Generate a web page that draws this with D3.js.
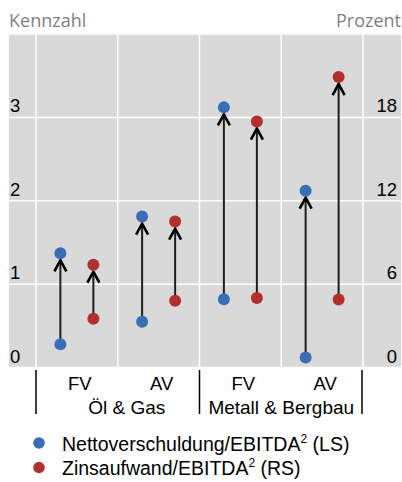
<!DOCTYPE html>
<html><head><meta charset="utf-8">
<script src="https://cdn.jsdelivr.net/npm/d3@7"></script>
<style>body{margin:0;background:#fff}svg{display:block}</style>
</head><body>
<script>
const categories = ["FV", "AV", "FV", "AV"];
const groups = ["Öl & Gas", "Metall & Bergbau"];
const netDebtStart = [0.28, 0.55, 0.82, 0.12];
const netDebtEnd = [1.37, 1.81, 3.12, 2.12];
const interestStart = [3.5, 4.8, 5.0, 4.9];
const interestEnd = [7.4, 10.5, 17.7, 20.9];
const leftTicks = [0, 1, 2, 3];
const rightTicks = [0, 6, 12, 18];
const seriesNames = ["Nettoverschuldung/EBITDA", "Zinsaufwand/EBITDA"];
const seriesSuffix = [" (LS)", " (RS)"];

(function () {
const W = 402, H = 482;
const blue = "#3a6db5", red = "#b1302f";
const svg = d3.select("body").append("svg").attr("width", W).attr("height", H);
const font = "'Liberation Sans', Arial, sans-serif";

const bgL = 9, bgR = 401, pTop = 34, pBottom = 367.5;
const x = d3.scaleBand().domain(d3.range(categories.length)).range([36, 363]);
const yL = d3.scaleLinear().domain([0, 4]).range([pBottom, pTop]);
const yR = d3.scaleLinear().domain([0, 24]).range([pBottom, pTop]);

svg.append("rect").attr("x", bgL).attr("y", pTop).attr("width", bgR - bgL).attr("height", pBottom - pTop).attr("fill", "#d9d9d9");

svg.selectAll(".hg").data(leftTicks.concat([4])).enter().append("line")
  .attr("x1", bgL).attr("x2", bgR).attr("y1", d => yL(d)).attr("y2", d => yL(d))
  .attr("stroke", "#fff").attr("stroke-width", 1.5);
const bounds = d3.range(categories.length).map(i => x(i)).concat([x(categories.length - 1) + x.bandwidth()]);
svg.selectAll(".vg").data(bounds).enter().append("line")
  .attr("x1", d => d).attr("x2", d => d).attr("y1", pTop).attr("y2", pBottom)
  .attr("stroke", "#fff").attr("stroke-width", 1.5);

svg.append("text").attr("x", 9).attr("y", 27).text("Kennzahl")
  .attr("font-family", "'Open Sans', sans-serif").attr("font-size", 18).attr("fill", "#7f7f7f");
svg.append("text").attr("x", 401).attr("y", 27).attr("text-anchor", "end").text("Prozent")
  .attr("font-family", "'Open Sans', sans-serif").attr("font-size", 18).attr("fill", "#7f7f7f");

svg.selectAll(".lt").data(leftTicks).enter().append("text")
  .attr("x", 10).attr("y", d => yL(d) - 5).text(d => d)
  .attr("font-family", font).attr("font-size", 18.5).attr("fill", "#000");
svg.selectAll(".rt").data(rightTicks).enter().append("text")
  .attr("x", 397).attr("y", d => yR(d) - 5).attr("text-anchor", "end").text(d => d)
  .attr("font-family", font).attr("font-size", 18.5).attr("fill", "#000");

svg.selectAll(".xl").data(categories).enter().append("text")
  .attr("x", (d, i) => x(i) + x.bandwidth() / 2 + 3).attr("y", 390).attr("text-anchor", "middle").text(d => d)
  .attr("font-family", font).attr("font-size", 18.5).attr("fill", "#000");
svg.selectAll(".gl").data(groups).enter().append("text")
  .attr("x", (d, i) => i === 0 ? (x(0) + x(1) + x.bandwidth()) / 2 + 9 : (x(2) + x(3) + x.bandwidth()) / 2)
  .attr("y", 414).attr("text-anchor", "middle").text(d => d)
  .attr("font-family", font).attr("font-size", 19).attr("fill", "#000");
svg.selectAll(".sep").data([x(0), x(2), x(3) + x.bandwidth() - 1]).enter().append("line")
  .attr("x1", d => d).attr("x2", d => d).attr("y1", 370).attr("y2", 414)
  .attr("stroke", "#000").attr("stroke-width", 1.5);

const off = 16.5, r = 6;
const items = [];
categories.forEach((c, i) => {
  const cx = x(i) + x.bandwidth() / 2;
  items.push({ x: cx - off, y0: yL(netDebtStart[i]), y1: yL(netDebtEnd[i]), color: blue });
  items.push({ x: cx + off, y0: yR(interestStart[i]), y1: yR(interestEnd[i]), color: red });
});
const g = svg.append("g");
items.forEach(d => {
  const tip = d.y1 + 7;
  g.append("line").attr("x1", d.x).attr("x2", d.x).attr("y1", d.y0).attr("y2", tip + 1)
    .attr("stroke", "#1e1e1e").attr("stroke-width", 2);
  g.append("path").attr("d", `M${d.x - 6},${tip + 11}L${d.x},${tip}L${d.x + 6},${tip + 11}`)
    .attr("fill", "none").attr("stroke", "#000").attr("stroke-width", 2.6).attr("stroke-linejoin", "miter");
});
items.forEach(d => {
  g.append("circle").attr("cx", d.x).attr("cy", d.y0).attr("r", r).attr("fill", d.color);
  g.append("circle").attr("cx", d.x).attr("cy", d.y1).attr("r", r).attr("fill", d.color);
});

[blue, red].forEach((c, i) => {
  const ly = 443 + i * 24.5;
  svg.append("circle").attr("cx", 39).attr("cy", ly).attr("r", 5.8).attr("fill", c);
  const t = svg.append("text").attr("x", 62).attr("y", ly + 7.5)
    .attr("font-family", font).attr("font-size", 19.5).attr("fill", "#000");
  t.append("tspan").text(seriesNames[i]);
  t.append("tspan").text("2").attr("font-size", 12).attr("dy", -8);
  t.append("tspan").text(seriesSuffix[i]).attr("dy", 8);
});
})();
</script>
</body></html>
